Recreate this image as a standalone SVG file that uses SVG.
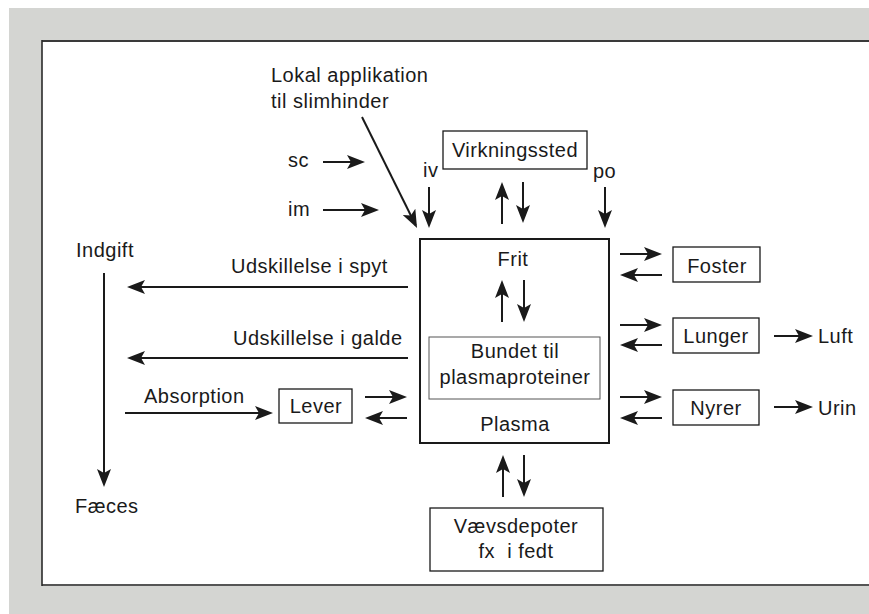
<svg xmlns="http://www.w3.org/2000/svg" width="869" height="614" viewBox="0 0 869 614">
<defs>
<style>
text{font-family:"Liberation Sans",Arial,sans-serif;font-size:20px;letter-spacing:0.5px;fill:#1a1a1a}
.m{text-anchor:middle}
.box{fill:#fff;stroke:#1a1a1a;stroke-width:1.3}
.thin{fill:#fff;stroke:#555;stroke-width:1}
.c line{stroke:#1a1a1a;stroke-width:2;marker-end:url(#ah)}
</style>
<marker id="ah" viewBox="0 0 18 14" refX="15" refY="7" markerWidth="18" markerHeight="14" orient="auto" markerUnits="userSpaceOnUse">
<path d="M0,0 L18,7 L0,14 L4,7 Z" fill="#1a1a1a"/>
</marker>
</defs>
<rect x="0" y="0" width="869" height="614" fill="#fff"/>
<rect x="9" y="8" width="860" height="606" fill="#d4d5d2"/>
<rect x="42" y="41" width="840" height="544" fill="#fff"/>
<g id="frame" fill="none" stroke-width="2">
<line x1="42" y1="41" x2="869" y2="41" stroke="#3a3a3a"/>
<line x1="42" y1="585" x2="869" y2="585" stroke="#555"/>
<line x1="42" y1="40" x2="42" y2="586" stroke="#2a2a2a" stroke-width="1.6"/>
</g>

<g id="plasma">
<rect x="420" y="239" width="189" height="204" fill="#fff" stroke="#1a1a1a" stroke-width="2"/>
<text class="m" x="513" y="266">Frit</text>
<text class="m" x="515" y="431">Plasma</text>
</g>
<g id="bundet">
<rect class="thin" x="429" y="337" width="171" height="62"/>
<text class="m" x="515" y="358">Bundet til</text>
<text class="m" x="515" y="384">plasmaproteiner</text>
</g>
<g id="virkningssted">
<rect class="box" x="443" y="131" width="144" height="38"/>
<text class="m" x="515" y="157">Virkningssted</text>
</g>
<g id="lever">
<rect class="box" x="279" y="389" width="73" height="34"/>
<text class="m" x="316" y="413">Lever</text>
</g>
<g id="foster">
<rect class="box" x="673" y="247" width="87" height="35"/>
<text class="m" x="717" y="273">Foster</text>
</g>
<g id="lunger">
<rect class="box" x="673" y="318" width="86" height="35"/>
<text class="m" x="716" y="343">Lunger</text>
</g>
<g id="nyrer">
<rect class="box" x="673" y="390" width="86" height="35"/>
<text class="m" x="716" y="415">Nyrer</text>
</g>
<g id="vaevsdepoter">
<rect class="box" x="430" y="508" width="173" height="63"/>
<text class="m" x="516" y="533">Vævsdepoter</text>
<text class="m" x="516" y="558" xml:space="preserve">fx  i fedt</text>
</g>

<g id="connectors" class="c">
<line x1="362" y1="117" x2="415.7" y2="225.3"/>
<line x1="323" y1="162" x2="362" y2="162"/>
<line x1="323" y1="210" x2="376" y2="210"/>
<line x1="429" y1="187" x2="429" y2="225"/>
<line x1="502" y1="224" x2="502" y2="185"/>
<line x1="523" y1="182" x2="523" y2="220"/>
<line x1="605" y1="187" x2="605" y2="225"/>
<line x1="502" y1="322" x2="502" y2="283"/>
<line x1="524" y1="280" x2="524" y2="319"/>
<line x1="408" y1="287" x2="130" y2="287"/>
<line x1="408" y1="358" x2="130" y2="358"/>
<line x1="125" y1="413" x2="270" y2="413"/>
<line x1="365" y1="397" x2="404" y2="397"/>
<line x1="407" y1="418" x2="368" y2="418"/>
<line x1="104" y1="273" x2="104" y2="484"/>
<line x1="620" y1="254" x2="659" y2="254"/>
<line x1="662" y1="275" x2="623" y2="275"/>
<line x1="620" y1="325" x2="659" y2="325"/>
<line x1="662" y1="345" x2="623" y2="345"/>
<line x1="620" y1="397" x2="659" y2="397"/>
<line x1="662" y1="418" x2="623" y2="418"/>
<line x1="774" y1="336" x2="810" y2="336"/>
<line x1="774" y1="407" x2="810" y2="407"/>
<line x1="503" y1="497" x2="503" y2="458"/>
<line x1="524" y1="455" x2="524" y2="494"/>
</g>

<g id="labels">
<text x="271" y="82">Lokal applikation</text>
<text x="271" y="108">til slimhinder</text>
<text x="288" y="167">sc</text>
<text x="288" y="216">im</text>
<text x="423" y="177">iv</text>
<text x="593" y="178">po</text>
<text x="76" y="257">Indgift</text>
<text x="231" y="273">Udskillelse i spyt</text>
<text x="233" y="345">Udskillelse i galde</text>
<text x="144" y="403">Absorption</text>
<text x="818" y="343">Luft</text>
<text x="818" y="415">Urin</text>
<text x="75" y="513">Fæces</text>
</g>
</svg>
